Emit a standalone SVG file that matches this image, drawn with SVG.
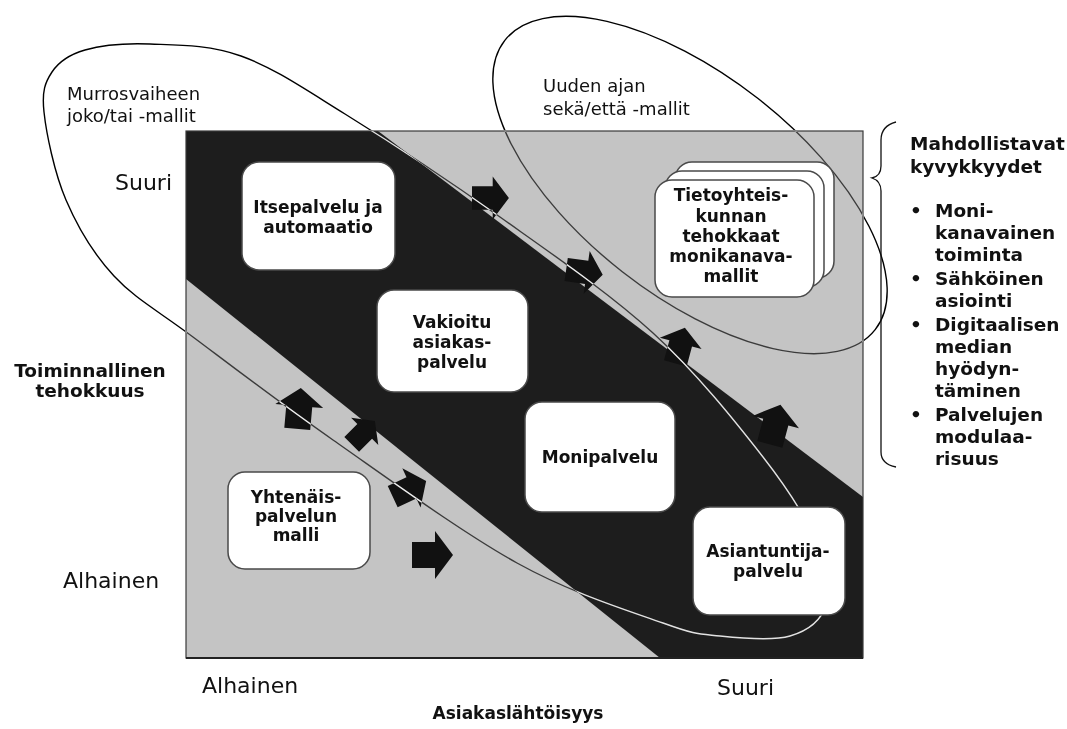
<svg xmlns="http://www.w3.org/2000/svg" xmlns:xlink="http://www.w3.org/1999/xlink" width="1067" height="729" viewBox="0 0 1067 729">
<style>
  text { font-family: "DejaVu Sans", Verdana, sans-serif; fill: #111; }
  .reg { font-size: 18px; }
  .axis { font-size: 22px; }
  .side { font-size: 18.5px; font-weight: bold; }
  .bt { font-size: 17px; font-weight: bold; text-anchor: middle; }
  .box { fill: #fff; stroke: #4a4a4a; stroke-width: 1.5; }
  .arw { fill: #111; }
  .ell { fill: none; stroke: #fff; stroke-width: 1.4; }
</style>
<defs>
  <path id="arrow" d="M0,-21 L24,-3 L13,-3 L13,20 L-13,20 L-13,-3 L-24,-3 Z"/>
</defs>

<rect x="0" y="0" width="1067" height="729" fill="#fff"/>

<g id="plot">
  <rect x="186" y="131" width="677" height="527" fill="#c4c4c4"/>
  <path d="M186,131 L378,131 L863,497 L863,658 L660,658 L186,279 Z" fill="#1d1d1d"/>
  <rect x="186" y="131" width="677" height="527" fill="none" stroke="#3a3a3a" stroke-width="1.2"/>
  <line x1="186" y1="658" x2="863" y2="658" stroke="#222" stroke-width="2"/>
</g>

<g id="connectors">
  <use xlink:href="#arrow" class="arw" transform="translate(299,409) rotate(5)"/>
  <use xlink:href="#arrow" class="arw" transform="translate(363,433) rotate(45) scale(0.8)"/>
  <use xlink:href="#arrow" class="arw" transform="translate(409,489) rotate(65) scale(0.9)"/>
  <use xlink:href="#arrow" class="arw" transform="translate(432,555) rotate(90)"/>
  <use xlink:href="#arrow" class="arw" transform="translate(490,198) rotate(90) scale(0.9)"/>
  <use xlink:href="#arrow" class="arw" transform="translate(584,272) rotate(98) scale(0.9)"/>
  <use xlink:href="#arrow" class="arw" transform="translate(680,346) rotate(15) scale(0.9)"/>
  <use xlink:href="#arrow" class="arw" transform="translate(775,425) rotate(15)"/>
</g>

<g id="ellipses" style="mix-blend-mode:difference">
  <path id="ellipse-murros" class="ell" d="M44,112 C41.7,90.7 45.2,82.3 52,72 C58.8,61.7 68.7,54.7 85,50 C101.3,45.3 124,43 150,44 C176,45 208.5,44.3 241,56 C273.5,67.7 301.8,87.2 345,114 C388.2,140.8 448.7,180.5 500,217 C551.3,253.5 609.2,293 653,333 C696.8,373 735.5,421.7 763,457 C790.5,492.3 807.5,520.3 818,545 C828.5,569.7 830.7,589.8 826,605 C821.3,620.2 807.7,630.8 790,636 C772.3,641.2 741.2,638.2 720,636 C698.8,633.8 696.8,635.2 663,623 C629.2,610.8 572,593.5 517,563 C462,532.5 387,477.7 333,440 C279,402.3 229.5,364.3 193,337 C156.5,309.7 135.2,298.8 114,276 C92.8,253.2 77.7,227.3 66,200 C54.3,172.7 46.3,133.3 44,112 Z"/>
  <ellipse id="ellipse-uuden" class="ell" cx="690" cy="185" rx="235" ry="110" transform="rotate(38 690 185)"/>
</g>

<g id="node-itsepalvelu">
  <rect class="box" x="242" y="162" width="153" height="108" rx="17"/>
  <text class="bt" x="318" y="213">Itsepalvelu ja</text>
  <text class="bt" x="318" y="233">automaatio</text>
</g>
<g id="node-vakioitu">
  <rect class="box" x="377" y="290" width="151" height="102" rx="17"/>
  <text class="bt" x="452" y="328">Vakioitu</text>
  <text class="bt" x="452" y="348">asiakas-</text>
  <text class="bt" x="452" y="368">palvelu</text>
</g>
<g id="node-yhtenais">
  <rect class="box" x="228" y="472" width="142" height="97" rx="17"/>
  <text class="bt" x="296" y="503">Yhtenäis-</text>
  <text class="bt" x="296" y="522">palvelun</text>
  <text class="bt" x="296" y="541">malli</text>
</g>
<g id="node-monipalvelu">
  <rect class="box" x="525" y="402" width="150" height="110" rx="17"/>
  <text class="bt" x="600" y="463">Monipalvelu</text>
</g>
<g id="node-asiantuntija">
  <rect class="box" x="693" y="507" width="152" height="108" rx="17"/>
  <text class="bt" x="768" y="557">Asiantuntija-</text>
  <text class="bt" x="768" y="577">palvelu</text>
</g>
<g id="node-tietoyhteiskunta">
  <rect class="box" x="675" y="162" width="159" height="116" rx="17"/>
  <rect class="box" x="665" y="171" width="159" height="116" rx="17"/>
  <rect class="box" x="655" y="180" width="159" height="117" rx="17"/>
  <text class="bt" x="731" y="201">Tietoyhteis-</text>
  <text class="bt" x="731" y="222">kunnan</text>
  <text class="bt" x="731" y="242">tehokkaat</text>
  <text class="bt" x="731" y="262">monikanava-</text>
  <text class="bt" x="731" y="282">mallit</text>
</g>

<g id="label-murros">
  <text class="reg" x="67" y="100">Murrosvaiheen</text>
  <text class="reg" x="67" y="122">joko/tai -mallit</text>
</g>
<g id="label-uuden">
  <text class="reg" x="543" y="92">Uuden ajan</text>
  <text class="reg" x="543" y="115">sekä/että -mallit</text>
</g>

<g id="axis-y">
  <text class="axis" x="115" y="190">Suuri</text>
  <text class="axis" x="63" y="588">Alhainen</text>
  <text class="side" x="90" y="377" text-anchor="middle">Toiminnallinen</text>
  <text class="side" x="90" y="397" text-anchor="middle">tehokkuus</text>
</g>
<g id="axis-x">
  <text class="axis" x="202" y="693">Alhainen</text>
  <text class="axis" x="717" y="695">Suuri</text>
  <text x="518" y="719" text-anchor="middle" style="font-size:17px;font-weight:bold">Asiakaslähtöisyys</text>
</g>

<g id="capabilities">
  <path d="M896,122 Q881,126 881,140 L881,166 Q881,176 872,178 Q881,181 881,191 L881,452 Q881,464 896,467" fill="none" stroke="#111" stroke-width="1.3"/>
  <text class="side" x="910" y="150">Mahdollistavat</text>
  <text class="side" x="910" y="173">kyvykkyydet</text>
  <g>
    <text class="side" x="910" y="217">•</text>
    <text class="side" x="935" y="217">Moni-</text>
    <text class="side" x="935" y="239">kanavainen</text>
    <text class="side" x="935" y="261">toiminta</text>
    <text class="side" x="910" y="285">•</text>
    <text class="side" x="935" y="285">Sähköinen</text>
    <text class="side" x="935" y="307">asiointi</text>
    <text class="side" x="910" y="331">•</text>
    <text class="side" x="935" y="331">Digitaalisen</text>
    <text class="side" x="935" y="353">median</text>
    <text class="side" x="935" y="375">hyödyn-</text>
    <text class="side" x="935" y="397">täminen</text>
    <text class="side" x="910" y="421">•</text>
    <text class="side" x="935" y="421">Palvelujen</text>
    <text class="side" x="935" y="443">modulaa-</text>
    <text class="side" x="935" y="465">risuus</text>
  </g>
</g>
</svg>
